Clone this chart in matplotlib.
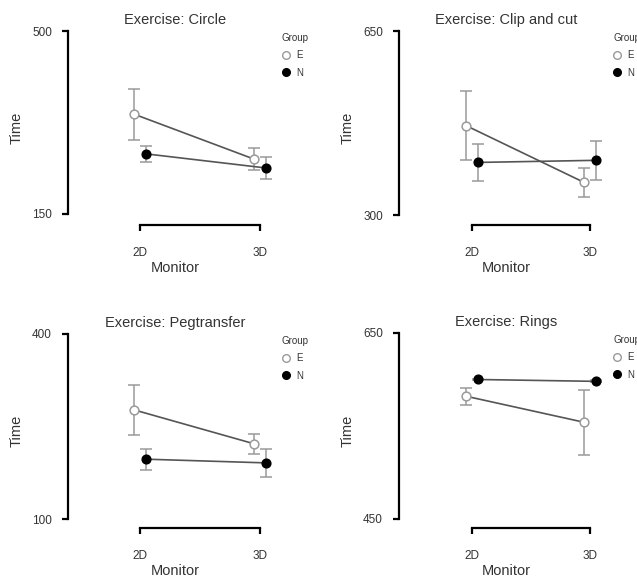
import matplotlib
matplotlib.use('Agg')
import matplotlib.pyplot as plt
from matplotlib.lines import Line2D
import numpy as np

plt.rcParams['font.family'] = ['Liberation Sans', 'DejaVu Sans']

W, H = 637, 584

exercises = ['Circle', 'Clip and cut', 'Pegtransfer', 'Rings']
monitors = ['2D', '3D']
groups = ['E', 'N']

e_mean = [[341, 255], [470, 362], [277, 222], [582, 554]]
e_err = [[49, 21], [65, 27], [40, 16], [9, 35]]
n_mean = [[265, 238], [400, 404], [197, 191], [600, 598]]
n_err = [[15, 21], [36, 37], [17, 23], [1, 1]]
y_ticks = [[150, 500], [300, 650], [100, 400], [450, 650]]

# panel layout in pixels: spine x, 2D x, 3D x, top tick y, bottom tick y, bracket y
layout = [
    (68, 140, 260, 31, 214, 225),
    (399, 472, 590, 31, 215, 225),
    (68, 140, 260, 334, 519, 528),
    (399, 472, 590, 333, 519, 528),
]
panel_w = 215
dodge = 0.05
txt = '#333333'

fig = plt.figure(figsize=(W / 100, H / 100), dpi=100)

for i, name in enumerate(exercises):
    L, p2, p3, ty, by, bry = layout[i]
    s = p3 - p2
    lo, hi = y_ticks[i]
    upp = (hi - lo) / (by - ty)
    ax = fig.add_axes([L / W, 1 - bry / H, panel_w / W, (bry - ty) / H])
    ax.set_xlim(1 - (p2 - L) / s, 2 + (L + panel_w - p3) / s)
    ax.set_ylim(lo - (bry - by) * upp, hi)

    x = np.array([1, 2])
    ax.errorbar(x - dodge, e_mean[i], yerr=e_err[i], fmt='none', ecolor='#9a9a9a',
                elinewidth=1.1, capsize=4, capthick=1.1, zorder=2, clip_on=False)
    ax.errorbar(x + dodge, n_mean[i], yerr=n_err[i], fmt='none', ecolor='#9a9a9a',
                elinewidth=1.1, capsize=4, capthick=1.1, zorder=2, clip_on=False)
    ax.plot(x - dodge, e_mean[i], color='#555555', lw=1.2, zorder=3)
    ax.plot(x + dodge, n_mean[i], color='#555555', lw=1.2, zorder=3)
    ax.plot(x - dodge, e_mean[i], 'o', ms=6.3, mfc='white', mec='#9a9a9a', mew=1.1,
            zorder=4, clip_on=False)
    ax.plot(x + dodge, n_mean[i], 'o', ms=6.3, mfc='black', mec='black',
            zorder=4, clip_on=False)

    for side in ['top', 'right']:
        ax.spines[side].set_visible(False)
    ax.spines['left'].set_bounds(lo, hi)
    ax.spines['bottom'].set_bounds(1, 2)
    for side in ['left', 'bottom']:
        ax.spines[side].set_linewidth(1.6)
    ax.set_yticks(y_ticks[i])
    ax.set_xticks([1, 2])
    ax.set_xticklabels(monitors)
    ax.tick_params(axis='both', length=4.5, width=1.6, labelsize=8.5, labelcolor=txt)
    ax.tick_params(axis='x', pad=11)
    ax.tick_params(axis='y', pad=7)
    ax.set_xlabel('Monitor', fontsize=10.5, color=txt, labelpad=2)
    ax.set_ylabel('Time', fontsize=10.5, color=txt, labelpad=6)
    ax.set_title('Exercise: ' + name, fontsize=10.5, color=txt, pad=5)

    # legend sits to the right of each panel (clipped at the figure edge on the right column)
    handles = [Line2D([], [], ls='none', marker='o', ms=5.5, mfc='white', mec='#9a9a9a'),
               Line2D([], [], ls='none', marker='o', ms=5.5, mfc='black', mec='black')]
    lx = L + 214
    leg = fig.legend(handles, groups, title='Group', loc='upper left',
                     bbox_to_anchor=(lx / W, 1 - (ty + 2) / H), frameon=False,
                     fontsize=7, title_fontsize=7, handlelength=0.8,
                     handletextpad=0.7, labelspacing=0.75, borderaxespad=0,
                     borderpad=0)
    leg._legend_box.align = 'left'
    for t in leg.get_texts():
        t.set_color(txt)
    leg.get_title().set_color(txt)

fig.savefig('out.png', dpi=100)
